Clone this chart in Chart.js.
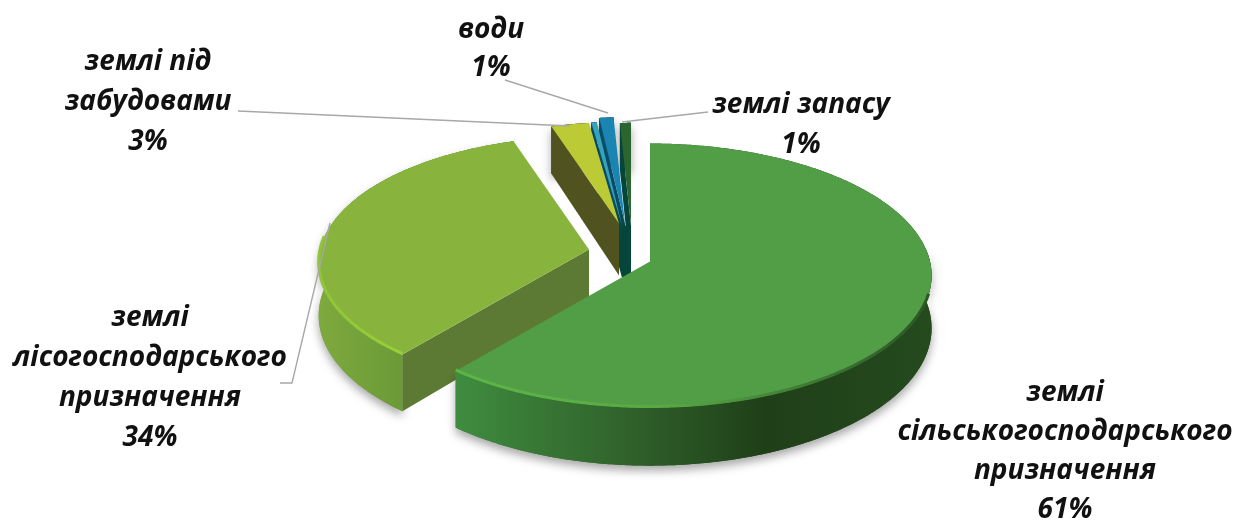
<!DOCTYPE html>
<html>
<head>
<meta charset="utf-8">
<style>
html, body { margin: 0; padding: 0; background: #fff; }
#wrap { width: 1239px; height: 523px; }
</style>
<script src="https://cdn.jsdelivr.net/npm/chart.js@4"></script>
</head>
<body>
<div id="wrap"><canvas id="canvas" width="1239" height="523"></canvas></div>
<script>
// land categories, the thin teal slice has no label in the picture
var categories = ['землі сільськогосподарського призначення', 'землі лісогосподарського призначення', 'землі під забудовами', 'інші', 'води', 'землі запасу'];
var values = [61, 34, 2.8, 0.4, 1, 0.8];

var topColors = ['#519e46', '#88b43e', '#bccb35', '#35a3bb', '#1a84b2', '#2b6631'];
var faceColors = ['#2f6a30', '#5c7a33', '#50521f', '#0b5068', '#0a4c66', '#05453a'];

// how the slices are pulled out of the pie, in px
var explodeX = [0, -61, -31, -28, -25, -19];
var explodeY = [0, -12, -38, -36, -38, -36];
var sliceScale = [1, 0.96, 0.86, 0.88, 0.9, 0.87];

// label text, line by line
var labelLines = [
	['землі', 'сільськогосподарського', 'призначення'],
	['землі', 'лісогосподарського', 'призначення'],
	['землі під', 'забудовами'],
	[],
	['води'],
	['землі запасу']
];
var labelX = [1065, 150, 148, 0, 491, 801];
var labelY = [393, 318, 62, 0, 30, 105];
var lineGaps = [39, 40, 40, 0, 38, 40];

var leaders = [
	[[280, 383], [292, 383], [330, 223]],
	[[238, 111], [570, 126]],
	[[505, 80], [608, 113]],
	[[622, 122], [708, 112]]
];

var FLAT = 130.5;   // height of the tilted radius
var PERSP = 0.106;
var DEPTH = 52;

function project(el, i, a, down) {
	var k = sliceScale[i];
	var u = Math.cos(a), v = Math.sin(a);
	var f = 1 / (1 - PERSP * v);
	return {
		x: el.x + explodeX[i] + el.outerRadius * k * u * f,
		y: el.y + explodeY[i] + FLAT * k * v * f + (down ? DEPTH * f : 0)
	};
}

function apexOf(el, i) {
	return { x: el.x + explodeX[i], y: el.y + explodeY[i] };
}

function rimPoints(el, i, from, to, down) {
	var pts = [];
	var n = Math.max(2, Math.ceil((to - from) / 0.01));
	for (var s = 0; s <= n; s++) {
		pts.push(project(el, i, from + (to - from) * s / n, down));
	}
	return pts;
}

function tracePoly(ctx, pts) {
	ctx.beginPath();
	pts.forEach(function(p, n) {
		if (n == 0) ctx.moveTo(p.x, p.y);
		else ctx.lineTo(p.x, p.y);
	});
	ctx.closePath();
}

function wallGradient(ctx, i) {
	var g;
	if (i == 0) {
		g = ctx.createLinearGradient(460, 0, 930, 0);
		g.addColorStop(0, '#3f8c3e');
		g.addColorStop(0.1, '#3a7f39');
		g.addColorStop(0.3, '#33682e');
		g.addColorStop(0.65, '#1f3f19');
		g.addColorStop(1, '#254a1e');
	} else if (i == 1) {
		g = ctx.createLinearGradient(315, 0, 400, 0);
		g.addColorStop(0, '#7faa3e');
		g.addColorStop(1, '#6b9a38');
	} else {
		g = faceColors[i];
	}
	return g;
}

function faceFill(ctx, i) {
	if (i < 3 || i == 5) return faceColors[i];
	// the two blue faces run into the dark teal at the foot
	var g = ctx.createLinearGradient(0, 195, 0, 240);
	g.addColorStop(0, faceColors[i]);
	g.addColorStop(1, faceColors[5]);
	return g;
}

function drawWall(ctx, el, i) {
	var start = el.startAngle, end = el.endAngle;
	var top = rimPoints(el, i, start, end, false);
	var low = rimPoints(el, i, start, end, true);
	// soft shadow under the front part only
	var shadowFrom = Math.max(start, -0.1);
	if (shadowFrom < end && end > 0) {
		ctx.save();
		ctx.shadowColor = 'rgba(0,0,0,0.35)';
		ctx.shadowBlur = 10;
		ctx.shadowOffsetY = 5;
		ctx.fillStyle = wallGradient(ctx, i);
		tracePoly(ctx, rimPoints(el, i, shadowFrom, end, false).concat(rimPoints(el, i, shadowFrom, end, true).reverse()));
		ctx.fill();
		ctx.restore();
	}
	ctx.fillStyle = wallGradient(ctx, i);
	tracePoly(ctx, top.concat(low.reverse()));
	ctx.fill();
}

function drawFace(ctx, el, i) {
	var apex = apexOf(el, i);
	ctx.fillStyle = faceFill(ctx, i);
	tracePoly(ctx, [apex, project(el, i, el.startAngle, false), project(el, i, el.startAngle, true), { x: apex.x, y: apex.y + DEPTH }]);
	ctx.fill();
}

function drawTop(ctx, el, i) {
	ctx.fillStyle = el.options.backgroundColor;
	tracePoly(ctx, [apexOf(el, i)].concat(rimPoints(el, i, el.startAngle, el.endAngle, false)));
	ctx.fill();
}

// light bevel along the front rim
function drawRim(ctx, el, i) {
	var from = Math.max(el.startAngle, 0.25);
	var to = Math.min(el.endAngle, Math.PI + 0.1);
	var g = ctx.createLinearGradient(i == 0 ? 460 : 315, 0, i == 0 ? 920 : 400, 0);
	if (i == 0) {
		g.addColorStop(0, '#5cb547');
		g.addColorStop(0.45, '#58a943');
		g.addColorStop(0.8, '#3b7332');
		g.addColorStop(1, '#2c5a26');
	} else {
		g.addColorStop(0, '#8fc537');
		g.addColorStop(1, '#98cf38');
	}
	ctx.strokeStyle = g;
	ctx.lineWidth = 3;
	ctx.beginPath();
	rimPoints(el, i, from, to, false).forEach(function(p, n) {
		if (n == 0) ctx.moveTo(p.x, p.y - 1);
		else ctx.lineTo(p.x, p.y - 1);
	});
	ctx.stroke();
}

var pie3d = {
	id: 'pie3d',
	beforeDatasetDraw: function(chart, args) {
		var ctx = chart.ctx;
		var arcs = chart.getDatasetMeta(args.index).data;
		ctx.save();
		// thin slices behind everything, tops after all their faces
		[3, 4, 5, 2].forEach(function(i) {
			drawWall(ctx, arcs[i], i);
			drawFace(ctx, arcs[i], i);
		});
		// dark foot where the thin slices meet
		var a = apexOf(arcs[3], 3), b = apexOf(arcs[5], 5);
		ctx.fillStyle = faceColors[5];
		tracePoly(ctx, [a, b, { x: b.x, y: b.y + DEPTH }, { x: a.x, y: a.y + DEPTH }]);
		ctx.fill();
		[2, 3, 4, 5].forEach(function(i) {
			drawTop(ctx, arcs[i], i);
		});
		[1, 0].forEach(function(i) {
			drawWall(ctx, arcs[i], i);
			drawFace(ctx, arcs[i], i);
			drawTop(ctx, arcs[i], i);
			drawRim(ctx, arcs[i], i);
		});
		ctx.restore();
		return false;
	},
	afterDatasetsDraw: function(chart) {
		var ctx = chart.ctx;
		var total = values.reduce(function(a, b) { return a + b; }, 0);
		ctx.save();
		ctx.strokeStyle = '#a8a8a8';
		ctx.lineWidth = 1.4;
		leaders.forEach(function(line) {
			ctx.beginPath();
			line.forEach(function(p, n) {
				if (n == 0) ctx.moveTo(p[0], p[1]);
				else ctx.lineTo(p[0], p[1]);
			});
			ctx.stroke();
		});
		ctx.fillStyle = '#111';
		ctx.textAlign = 'center';
		ctx.textBaseline = 'middle';
		ctx.font = "italic bold 28px 'Open Sans'";
		labelLines.forEach(function(lines, i) {
			if (!lines.length) return;
			var pct = Math.round(values[i] / total * 100) + '%';
			lines.concat([pct]).forEach(function(text, n) {
				ctx.fillText(text, labelX[i], labelY[i] + n * lineGaps[i]);
			});
		});
		ctx.restore();
	}
};

window.onload = function() {
	var ctx = document.getElementById('canvas').getContext('2d');
	window.myPie = new Chart(ctx, {
		type: 'pie',
		data: {
			labels: categories,
			datasets: [{
				data: values,
				backgroundColor: topColors,
				borderWidth: 0,
				clip: false
			}]
		},
		options: {
			responsive: false,
			animation: false,
			radius: 280,
			layout: { padding: { left: 61 } },
			plugins: {
				legend: { display: false },
				tooltip: { enabled: false }
			}
		},
		plugins: [pie3d]
	});
};
</script>
</body>
</html>
